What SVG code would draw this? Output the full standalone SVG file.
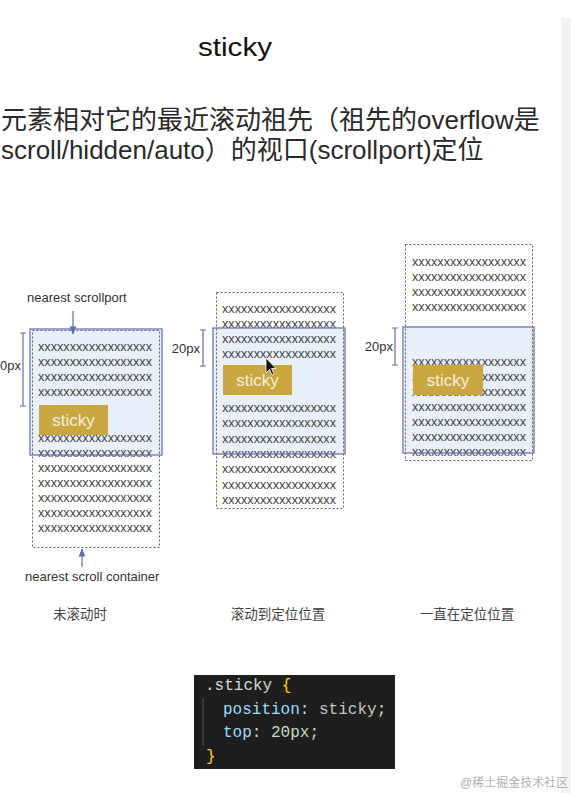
<svg xmlns="http://www.w3.org/2000/svg" width="571" height="793" viewBox="0 0 571 793">
<defs>
<style>
.sans{font-family:"Liberation Sans","Noto Sans CJK SC",sans-serif}
.cjk{font-family:"Liberation Sans","Noto Sans CJK SC",sans-serif}
.xx{font-family:"Liberation Sans",sans-serif;font-size:12.5px;fill:#444}
.port{fill:#eaf0fa;stroke:none}
.portb{fill:none;stroke:#6577b8;stroke-width:1.3}
.cont{fill:none;stroke:#5e5e5e;stroke-width:1;stroke-dasharray:2 2}
.stk{fill:#c9a640}
.stkt{font-family:"Liberation Sans",sans-serif;font-size:17px;fill:#f6f0dc;text-anchor:middle}
.br{stroke:#5f6fa6;stroke-width:1.2;fill:none}
.lbl{font-family:"Liberation Sans",sans-serif;font-size:13px;fill:#333}
.cap{font-family:"Liberation Sans","Noto Sans CJK SC",sans-serif;font-size:13.5px;fill:#444;text-anchor:middle}
.code{font-family:"Liberation Mono",monospace;font-size:16px}
</style>
<marker id="ah" viewBox="0 0 10 10" refX="9" refY="5" markerWidth="7" markerHeight="7" orient="auto-start-reverse">
<path d="M0,1 L10,5 L0,9 z" fill="#5f6fa6"/>
</marker>
</defs>
<rect x="0" y="0" width="571" height="793" fill="#ffffff"/>
<rect x="561" y="18" width="10" height="775" fill="#f2f2f2"/>

<g id="title">
<text class="sans" x="235" y="56" font-size="26" fill="#111" text-anchor="middle" textLength="74" lengthAdjust="spacingAndGlyphs">sticky</text>
</g>
<g id="desc">
<text class="cjk" x="1" y="129" font-size="26" fill="#2a2a2a">元素相对它的最近滚动祖先（祖先的overflow是</text>
<text class="cjk" x="1" y="159" font-size="26" fill="#2a2a2a">scroll/hidden/auto）的视口(scrollport)定位</text>
</g>

<g id="panel1">
<rect class="port" x="30" y="329" width="132" height="126"/>
<g class="xx">
<text x="38" y="351" textLength="114" lengthAdjust="spacingAndGlyphs">xxxxxxxxxxxxxxxxxx</text>
<text x="38" y="366" textLength="114" lengthAdjust="spacingAndGlyphs">xxxxxxxxxxxxxxxxxx</text>
<text x="38" y="381" textLength="114" lengthAdjust="spacingAndGlyphs">xxxxxxxxxxxxxxxxxx</text>
<text x="38" y="396" textLength="114" lengthAdjust="spacingAndGlyphs">xxxxxxxxxxxxxxxxxx</text>
<text x="38" y="442" textLength="114" lengthAdjust="spacingAndGlyphs">xxxxxxxxxxxxxxxxxx</text>
<text x="38" y="457" textLength="114" lengthAdjust="spacingAndGlyphs">xxxxxxxxxxxxxxxxxx</text>
<text x="38" y="472" textLength="114" lengthAdjust="spacingAndGlyphs">xxxxxxxxxxxxxxxxxx</text>
<text x="38" y="487" textLength="114" lengthAdjust="spacingAndGlyphs">xxxxxxxxxxxxxxxxxx</text>
<text x="38" y="502" textLength="114" lengthAdjust="spacingAndGlyphs">xxxxxxxxxxxxxxxxxx</text>
<text x="38" y="517" textLength="114" lengthAdjust="spacingAndGlyphs">xxxxxxxxxxxxxxxxxx</text>
<text x="38" y="532" textLength="114" lengthAdjust="spacingAndGlyphs">xxxxxxxxxxxxxxxxxx</text>
</g>
<rect class="cont" x="32.5" y="330.5" width="127" height="217"/>
<rect class="portb" x="30" y="329" width="132" height="126"/>
<rect class="stk" x="39" y="405" width="69" height="30"/>
<text class="stkt" x="73.5" y="426">sticky</text>
<path class="br" d="M23,333 V406 M20,333 H26 M20,406 H26"/>
<text class="lbl" x="21" y="370" text-anchor="end">20px</text>
<text class="lbl" x="27" y="302">nearest scrollport</text>
<text class="lbl" x="25" y="581">nearest scroll container</text>
<text class="cap" x="80" y="619">未滚动时</text>
</g>

<g id="panel2">
<rect class="port" x="213" y="328" width="132" height="126"/>
<g class="xx">
<text x="222" y="313" textLength="114" lengthAdjust="spacingAndGlyphs">xxxxxxxxxxxxxxxxxx</text>
<text x="222" y="328" textLength="114" lengthAdjust="spacingAndGlyphs">xxxxxxxxxxxxxxxxxx</text>
<text x="222" y="343" textLength="114" lengthAdjust="spacingAndGlyphs">xxxxxxxxxxxxxxxxxx</text>
<text x="222" y="358" textLength="114" lengthAdjust="spacingAndGlyphs">xxxxxxxxxxxxxxxxxx</text>
<text x="222" y="412" textLength="114" lengthAdjust="spacingAndGlyphs">xxxxxxxxxxxxxxxxxx</text>
<text x="222" y="427" textLength="114" lengthAdjust="spacingAndGlyphs">xxxxxxxxxxxxxxxxxx</text>
<text x="222" y="443" textLength="114" lengthAdjust="spacingAndGlyphs">xxxxxxxxxxxxxxxxxx</text>
<text x="222" y="458" textLength="114" lengthAdjust="spacingAndGlyphs">xxxxxxxxxxxxxxxxxx</text>
<text x="222" y="473" textLength="114" lengthAdjust="spacingAndGlyphs">xxxxxxxxxxxxxxxxxx</text>
<text x="222" y="489" textLength="114" lengthAdjust="spacingAndGlyphs">xxxxxxxxxxxxxxxxxx</text>
<text x="222" y="504" textLength="114" lengthAdjust="spacingAndGlyphs">xxxxxxxxxxxxxxxxxx</text>
</g>
<rect class="cont" x="216.5" y="292.5" width="127" height="216"/>
<rect class="portb" x="213" y="328" width="132" height="126"/>
<rect class="stk" x="223" y="365" width="69" height="30"/>
<text class="stkt" x="257.5" y="386">sticky</text>
<path class="br" d="M203,330 V366 M200,330 H206 M200,366 H206"/>
<text class="lbl" x="200" y="353" text-anchor="end">20px</text>
<path d="M266,358 L266,373 L269.5,369.5 L272,375 L274,374 L271.5,368.5 L276,368.5 Z" fill="#111" stroke="#fff" stroke-width="0.8"/>
<text class="cap" x="278" y="619">滚动到定位位置</text>
</g>

<g id="panel3">
<rect class="port" x="403" y="327" width="131" height="126"/>
<g class="xx">
<text x="412" y="266" textLength="114" lengthAdjust="spacingAndGlyphs">xxxxxxxxxxxxxxxxxx</text>
<text x="412" y="281" textLength="114" lengthAdjust="spacingAndGlyphs">xxxxxxxxxxxxxxxxxx</text>
<text x="412" y="296" textLength="114" lengthAdjust="spacingAndGlyphs">xxxxxxxxxxxxxxxxxx</text>
<text x="412" y="311" textLength="114" lengthAdjust="spacingAndGlyphs">xxxxxxxxxxxxxxxxxx</text>
<text x="412" y="366" textLength="114" lengthAdjust="spacingAndGlyphs">xxxxxxxxxxxxxxxxxx</text>
<text x="412" y="381" textLength="114" lengthAdjust="spacingAndGlyphs">xxxxxxxxxxxxxxxxxx</text>
<text x="412" y="396" textLength="114" lengthAdjust="spacingAndGlyphs">xxxxxxxxxxxxxxxxxx</text>
<text x="412" y="411" textLength="114" lengthAdjust="spacingAndGlyphs">xxxxxxxxxxxxxxxxxx</text>
<text x="412" y="426" textLength="114" lengthAdjust="spacingAndGlyphs">xxxxxxxxxxxxxxxxxx</text>
<text x="412" y="441" textLength="114" lengthAdjust="spacingAndGlyphs">xxxxxxxxxxxxxxxxxx</text>
<text x="412" y="456" textLength="114" lengthAdjust="spacingAndGlyphs">xxxxxxxxxxxxxxxxxx</text>
</g>
<rect class="cont" x="405.5" y="244.5" width="127" height="216"/>
<rect class="portb" x="403" y="327" width="131" height="126"/>
<rect class="stk" x="413" y="365" width="70" height="30"/>
<text class="stkt" x="448" y="386">sticky</text>
<path class="br" d="M395,328 V365 M392,328 H398 M392,365 H398"/>
<text class="lbl" x="393" y="351" text-anchor="end">20px</text>
<text class="cap" x="467" y="619">一直在定位位置</text>
</g>

<g id="connectors">
<line x1="73" y1="311" x2="73" y2="334" stroke="#5f6fa6" stroke-width="1.2" marker-end="url(#ah)"/>
<line x1="82" y1="567" x2="82" y2="549" stroke="#5f6fa6" stroke-width="1.2" marker-end="url(#ah)"/>
</g>

<g id="code">
<rect x="194" y="675" width="201" height="94" fill="#1e1e1e"/>
<line x1="203" y1="698" x2="203" y2="746" stroke="#555" stroke-width="1"/>
<text class="code" x="205" y="690"><tspan fill="#d7d7d7">.sticky</tspan><tspan fill="#ffd700"> {</tspan></text>
<text class="code" x="223" y="714"><tspan fill="#9cdcfe">position</tspan><tspan fill="#d4d4d4">: </tspan><tspan fill="#c9c4bc">sticky</tspan><tspan fill="#d4d4d4">;</tspan></text>
<text class="code" x="223" y="737"><tspan fill="#9cdcfe">top</tspan><tspan fill="#d4d4d4">: </tspan><tspan fill="#c8dcc0">20px</tspan><tspan fill="#d4d4d4">;</tspan></text>
<text class="code" x="206" y="761" fill="#ffd700">}</text>
</g>

<g id="watermark">
<text x="460" y="787" font-family="'Liberation Sans','Noto Sans CJK SC',sans-serif" font-size="12" fill="#b0b0b0">@稀土掘金技术社区</text>
</g>
</svg>
